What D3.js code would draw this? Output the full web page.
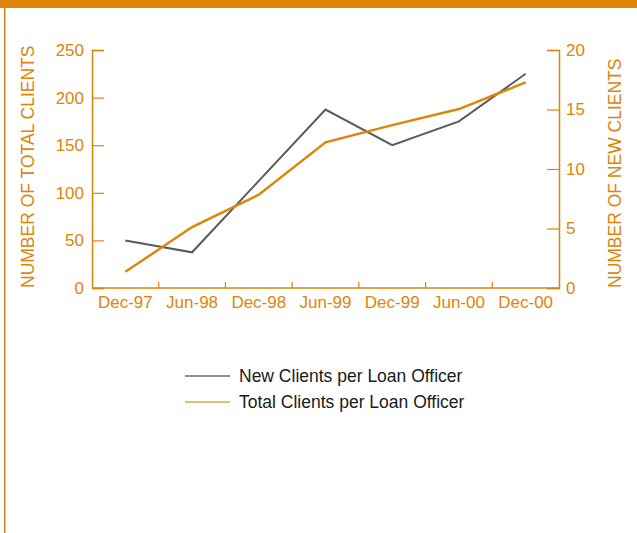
<!DOCTYPE html>
<html>
<head>
<meta charset="utf-8">
<script src="https://cdn.jsdelivr.net/npm/d3@7"></script>
<style>
  html, body { margin: 0; padding: 0; background: #fff; }
  svg { display: block; }
  text { font-family: "Liberation Sans", Arial, Helvetica, sans-serif; }
</style>
</head>
<body>
<svg id="chart" width="637" height="533"></svg>
<script>
// Semi-annual periods
const periods = ["Dec-97", "Jun-98", "Dec-98", "Jun-99", "Dec-99", "Jun-00", "Dec-00"];
// Total clients per loan officer (left axis)
const totalClients = [17, 64, 98, 153, 171, 188, 216];
// New clients per loan officer (right axis)
const newClients = [4, 3, 9, 15, 12, 14, 18];
const leftTicks = [0, 50, 100, 150, 200, 250];
const rightTicks = [0, 5, 10, 15, 20];

const ORANGE = "#dd8508";
const GREY = "#5a5a5a";

const svg = d3.select("#chart");
const W = 637, H = 533;
const m = { left: 92, right: 559, top: 50, bottom: 288 };

// Page frame: top band and left rule
svg.append("rect").attr("x", 0).attr("y", 0).attr("width", W).attr("height", 8).attr("fill", ORANGE);
svg.append("rect").attr("x", 4).attr("y", 0).attr("width", 1.5).attr("height", H).attr("fill", ORANGE);

const x = d3.scaleBand().domain(periods).range([m.left, m.right]).padding(0);
const yL = d3.scaleLinear().domain([0, 250]).range([m.bottom, m.top]);
const yR = d3.scaleLinear().domain([0, 20]).range([m.bottom, m.top]);

function styleAxis(g) {
  g.selectAll("path.domain").attr("stroke", ORANGE).attr("stroke-width", 1.5);
  g.selectAll(".tick line").attr("stroke", ORANGE).attr("stroke-width", 1.2);
  g.selectAll(".tick text").attr("fill", ORANGE).attr("font-size", 17)
    .attr("font-family", "'Liberation Sans', Arial, sans-serif");
}

// Left axis (ticks point inward)
const gL = svg.append("g").attr("transform", `translate(${m.left},0)`)
  .call(d3.axisLeft(yL).tickValues(leftTicks).tickSizeInner(-12).tickSizeOuter(-12).tickPadding(7));
styleAxis(gL);
gL.selectAll(".tick text").attr("x", -8);

// Right axis
const gR = svg.append("g").attr("transform", `translate(${m.right},0)`)
  .call(d3.axisRight(yR).tickValues(rightTicks).tickSizeInner(-12).tickSizeOuter(-12));
styleAxis(gR);
gR.selectAll(".tick text").attr("x", 7);

// Bottom axis: ticks between periods
const gB = svg.append("g").attr("transform", `translate(0,${m.bottom})`)
  .call(d3.axisBottom(x).tickSize(0).tickPadding(10));
styleAxis(gB);
gB.selectAll(".tick text").attr("dy", "0.6em");
gB.selectAll("path.domain").remove();
gB.append("line").attr("x1", m.left).attr("x2", m.right).attr("y1", 0).attr("y2", 0)
  .attr("stroke", ORANGE).attr("stroke-width", 1.5);
gB.selectAll("line.sep").data(periods.slice(1)).enter().append("line")
  .attr("class", "sep")
  .attr("x1", d => x(d)).attr("x2", d => x(d)).attr("y1", 0).attr("y2", -6)
  .attr("stroke", ORANGE).attr("stroke-width", 1.2);

// Axis titles
svg.append("text").attr("transform", `translate(34,${m.bottom}) rotate(-90)`)
  .attr("fill", ORANGE).attr("font-size", 17.5).text("NUMBER OF TOTAL CLIENTS");
svg.append("text").attr("transform", `translate(621,${m.bottom}) rotate(-90)`)
  .attr("fill", ORANGE).attr("font-size", 17.5).text("NUMBER OF NEW CLIENTS");

const cx = d => x(d) + x.bandwidth() / 2;

// Series lines
svg.append("path").datum(newClients)
  .attr("fill", "none").attr("stroke", GREY).attr("stroke-width", 2)
  .attr("d", d3.line().x((d, i) => cx(periods[i])).y(d => yR(d)));
svg.append("path").datum(totalClients)
  .attr("fill", "none").attr("stroke", ORANGE).attr("stroke-width", 2.4)
  .attr("d", d3.line().x((d, i) => cx(periods[i])).y(d => yL(d)));

// Legend
const legend = [
  { label: "New Clients per Loan Officer", color: "#6a6a6a" },
  { label: "Total Clients per Loan Officer", color: "#eba544" }
];
const lg = svg.append("g");
legend.forEach((d, i) => {
  const yy = 376 + i * 26;
  lg.append("line").attr("x1", 185).attr("x2", 230).attr("y1", yy).attr("y2", yy)
    .attr("stroke", d.color).attr("stroke-width", 1.5);
  lg.append("text").attr("x", 239).attr("y", yy).attr("dy", "0.35em")
    .attr("font-size", 17.5).attr("fill", "#1a1a1a").text(d.label);
});
</script>
</body>
</html>
